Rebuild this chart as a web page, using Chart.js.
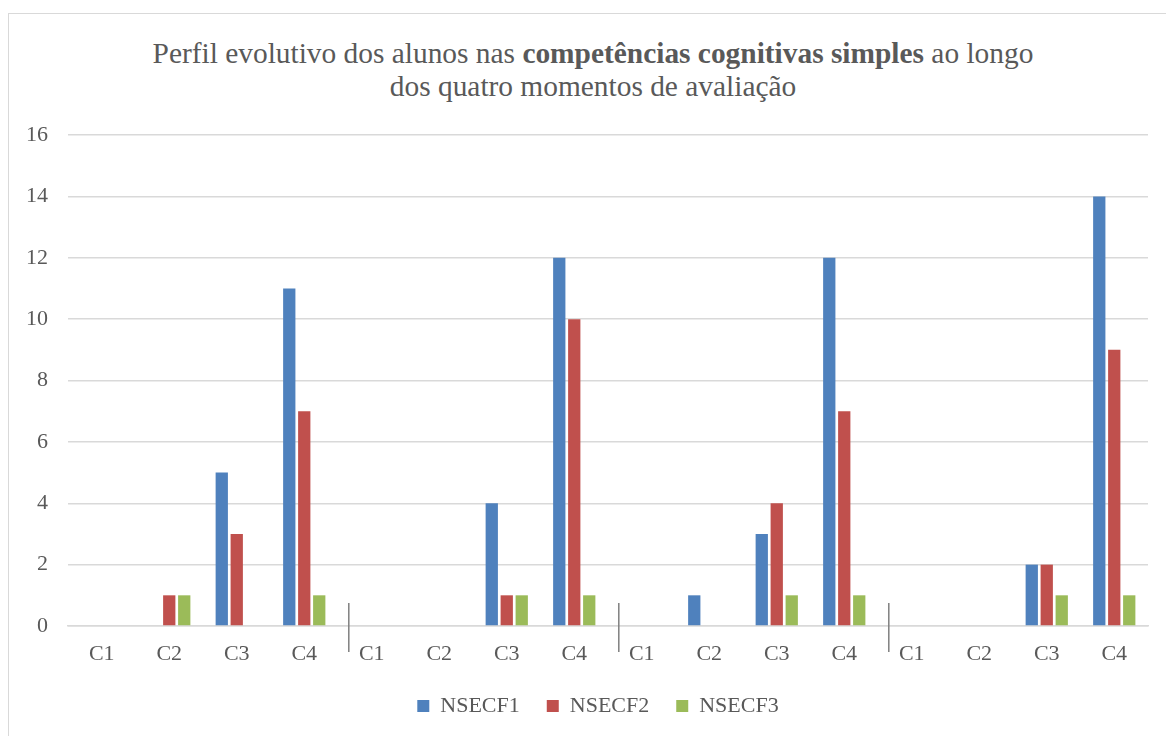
<!DOCTYPE html>
<html>
<head>
<meta charset="utf-8">
<script src="https://cdn.jsdelivr.net/npm/chart.js@4/dist/chart.umd.min.js"></script>
<style>
  html, body { margin: 0; background: #fff; width: 1166px; height: 736px; overflow: hidden; }
  #frame { position: absolute; left: 8px; top: 13px; width: 1180px; height: 760px; border: 1px solid #d9d9d9; box-sizing: border-box; }
  #title { position: absolute; left: 0; top: 37px; width: 1186px; text-align: center;
           font-family: 'Liberation Serif', serif; font-size: 29.4px; line-height: 33px; color: #595959; }
  #wrap { position: absolute; left: 0; top: 0; width: 1166px; height: 736px; }
</style>
</head>
<body>
<div id="frame"></div>
<div id="title">Perfil evolutivo dos alunos nas <b>competências cognitivas simples</b> ao longo<br>dos quatro momentos de avaliação</div>
<div id="wrap"><canvas id="myChart" width="1166" height="736"></canvas></div>
<script>
// dados
var categories = ['C1','C2','C3','C4','C1','C2','C3','C4','C1','C2','C3','C4','C1','C2','C3','C4'];
var nsecf1 = [0,0,5,11, 0,0,4,12, 0,1,3,12, 0,0,2,14];
var nsecf2 = [0,1,3,7,  0,0,1,10, 0,0,4,7,  0,0,2,9];
var nsecf3 = [0,1,0,1,  0,0,1,1,  0,0,1,1,  0,0,1,1];
var seriesNames = ['NSECF1','NSECF2','NSECF3'];
var yTicks = [0,2,4,6,8,10,12,14,16];

// separadores entre os momentos (depois de cada C4)
var separators = {
  id: 'separators',
  afterLayout: function(chart) {
    // a legenda do original fica um pouco mais à direita
    chart.legend.left += 24;
    chart.legend.right += 24;
  },
  afterDraw: function(chart) {
    var x = chart.scales.x, y = chart.scales.y, ctx = chart.ctx;
    var y0 = y.getPixelForValue(0);
    ctx.save();
    ctx.strokeStyle = '#7f7f7f';
    ctx.lineWidth = 1.5;
    for (var i = 3; i < categories.length - 1; i += 4) {
      var a = x.getPixelForTick(i), b = x.getPixelForTick(i + 1);
      var px = a + (b - a) * 0.66;
      ctx.beginPath();
      ctx.moveTo(px, y0 - 23);
      ctx.lineTo(px, y0 + 26);
      ctx.stroke();
    }
    ctx.restore();
  }
};

function drawChart() {
  var font = { family: "'Liberation Serif', serif", size: 22 };
  var ctx = document.getElementById('myChart').getContext('2d');
  var chart = new Chart(ctx, {
    type: 'bar',
    data: {
      labels: categories,
      datasets: [
        { label: seriesNames[0], data: nsecf1, backgroundColor: '#4f81bd' },
        { label: seriesNames[1], data: nsecf2, backgroundColor: '#c0504d' },
        { label: seriesNames[2], data: nsecf3, backgroundColor: '#9bbb59' }
      ]
    },
    options: {
      responsive: false,
      animation: false,
      categoryPercentage: 0.666,
      barPercentage: 0.82,
      layout: { padding: { left: 0, right: 18, top: 135, bottom: 9 } },
      scales: {
        x: {
          grid: { display: false, drawTicks: false },
          border: { display: true, color: '#d9d9d9', width: 1.5 },
          ticks: { color: '#595959', font: font, padding: 15, maxRotation: 0, autoSkip: false },
          afterFit: function(axis) { axis.height = 42; }
        },
        y: {
          min: 0, max: 16,
          afterBuildTicks: function(axis) { axis.ticks = yTicks.map(function(v) { return { value: v }; }); },
          grid: { color: '#d9d9d9', lineWidth: 1.5, drawTicks: false },
          border: { display: false },
          ticks: { color: '#595959', font: font, padding: 20 },
          afterFit: function(axis) { axis.width = 68; }
        }
      },
      plugins: {
        legend: {
          position: 'bottom',
          labels: { color: '#595959', font: font, boxWidth: 12, boxHeight: 12, padding: 27 }
        },
        tooltip: { enabled: false }
      }
    },
    plugins: [separators]
  });
}

if (document.fonts && document.fonts.load) {
  document.fonts.load("22px 'Liberation Serif'").then(drawChart, drawChart);
} else {
  drawChart();
}
</script>
</body>
</html>
